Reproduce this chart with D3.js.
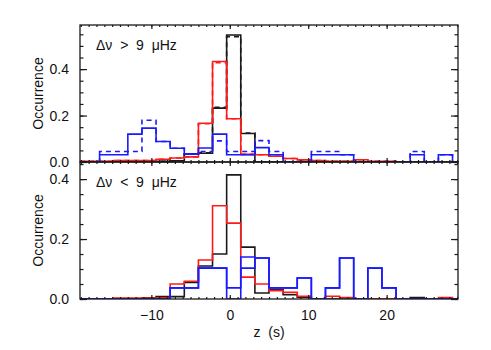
<!DOCTYPE html>
<html>
<head>
<meta charset="utf-8">
<script src="https://cdn.jsdelivr.net/npm/d3@7"></script>
<style>
  body { margin: 0; background: #fff; }
  text { font-family: "Liberation Sans", Arial, sans-serif; fill: #111; }
</style>
</head>
<body>
<svg id="chart" width="491" height="350"></svg>
<script>
// bin edges (s), 28 bins
var binEdges = [-20.2, -18.4, -16.6, -14.8, -13.0, -11.2, -9.4, -7.6, -5.8, -4.0, -2.2, -0.4,
  1.4, 3.2, 5.0, 6.8, 8.6, 10.4, 12.2, 14.0, 15.8, 17.6, 19.4, 21.2, 23.0, 24.8, 26.6, 28.4, 30.2];

// top panel: dnu > 9 muHz
var topBlack     = [0, 0, 0, 0, 0, 0, 0.003, 0.005, 0.035, 0.038, 0.232, 0.547, 0.123, 0, 0, 0, 0, 0, 0, 0, 0, 0, 0, 0, 0, 0, 0, 0];
var topBlackDash = [0, 0, 0, 0, 0, 0, 0.003, 0.005, 0.035, 0.040, 0.236, 0.540, 0.125, 0, 0, 0, 0, 0, 0, 0, 0, 0, 0, 0, 0, 0, 0, 0];
var topRed       = [0.003, 0.003, 0.003, 0.006, 0.006, 0.006, 0.012, 0.017, 0.022, 0.167, 0.433, 0.186, 0.033, 0.031, 0.025, 0.015, 0.009, 0.006, 0.003, 0.003, 0.010, 0.003, 0.003, 0, 0, 0, 0, 0];
var topRedDash   = [0.003, 0.003, 0.003, 0.006, 0.006, 0.006, 0.012, 0.017, 0.022, 0.165, 0.428, 0.186, 0.033, 0.031, 0.025, 0.015, 0.009, 0.006, 0.003, 0.003, 0.010, 0.003, 0.003, 0, 0, 0, 0, 0];
var topBlue      = [0, 0, 0.031, 0.031, 0.120, 0.146, 0.088, 0.059, 0.035, 0.060, 0.120, 0.031, 0.031, 0.062, 0.031, 0, 0, 0.031, 0.031, 0.031, 0, 0, 0, 0, 0.031, 0, 0.031, 0];
var topBlueDash  = [0, 0, 0.045, 0.045, 0.045, 0.180, 0.088, 0.059, 0.035, 0.045, 0.091, 0.045, 0.045, 0.092, 0.045, 0, 0, 0.045, 0.045, 0.031, 0, 0, 0, 0, 0.045, 0, 0.031, 0];

// bottom panel: dnu < 9 muHz
var botBlack = [0, 0, 0, 0, 0, 0.004, 0.008, 0.008, 0.055, 0.110, 0.150, 0.414, 0.173, 0.020, 0.031, 0.014, 0.006, 0, 0, 0, 0, 0, 0, 0, 0.005, 0, 0, 0];
var botRed   = [0, 0, 0, 0.003, 0.003, 0.003, 0.004, 0.050, 0.059, 0.130, 0.311, 0.253, 0.073, 0.050, 0.028, 0.022, 0.009, 0, 0.009, 0.005, 0, 0, 0, 0, 0, 0, 0.005, 0];
var botBlue  = [0, 0, 0, 0, 0, 0, 0, 0.037, 0.037, 0.103, 0.103, 0.037, 0.140, 0.137, 0.037, 0.037, 0.070, 0, 0.037, 0.137, 0, 0.103, 0.037, 0, 0, 0, 0, 0];
var botBlue2 = [0, 0, 0, 0, 0, 0, 0, 0.037, 0.037, 0.103, 0.103, 0, 0.103, 0.137, 0.037, 0.037, 0.070, 0, 0.037, 0.137, 0, 0.103, 0.037, 0, 0, 0, 0, 0];

var xTicks = [-10, 0, 10, 20];
var yTicks = [0, 0.2, 0.4];

var svg = d3.select("#chart");
var left = 80, right = 458, plotTop = 25, mid = 162, bottom = 299;

var x = d3.scaleLinear().domain([-19.1, 29.1]).range([left, right]);
var yTop = d3.scaleLinear().domain([0, 0.59]).range([mid, plotTop]);
var yBot = d3.scaleLinear().domain([0, 0.457]).range([bottom, mid]);

var ink = "#1a1a1a";

function drawPanel(id, y, y0, y1, series, label, withXLabels) {
  svg.append("clipPath").attr("id", id)
    .append("rect").attr("x", left).attr("y", y1).attr("width", right - left).attr("height", y0 - y1);
  var g = svg.append("g").attr("clip-path", "url(#" + id + ")");

  series.forEach(function(s) {
    var pts = s.values.map(function(v, i) { return [binEdges[i], v]; });
    pts.push([binEdges[binEdges.length - 1], s.values[s.values.length - 1]]);
    var line = d3.line()
      .x(function(d) { return x(d[0]); })
      .y(function(d) { return y(d[1]); })
      .curve(d3.curveStepAfter);
    g.append("path")
      .attr("d", line(pts))
      .attr("fill", "none")
      .attr("stroke", s.color)
      .attr("stroke-width", 1.6)
      .attr("stroke-dasharray", s.dash ? "5,4" : null);
  });

  // minor ticks
  var minorY = d3.range(0, y.domain()[1], 0.05);
  var minorX = d3.range(-19, 30, 1);
  svg.append("g").attr("transform", "translate(" + left + ",0)")
    .call(d3.axisLeft(y).tickValues(minorY).tickSize(-3.5).tickFormat(""));
  svg.append("g").attr("transform", "translate(" + right + ",0)")
    .call(d3.axisRight(y).tickValues(minorY).tickSize(-3.5).tickFormat(""));
  svg.append("g").attr("transform", "translate(0," + y0 + ")")
    .call(d3.axisBottom(x).tickValues(minorX).tickSize(-2).tickFormat(""));
  svg.append("g").attr("transform", "translate(0," + y1 + ")")
    .call(d3.axisTop(x).tickValues(minorX).tickSize(-2).tickFormat(""));

  // major ticks
  svg.append("g").attr("transform", "translate(" + left + ",0)")
    .call(d3.axisLeft(y).tickValues(yTicks).tickSize(-7).tickPadding(11).tickFormat(d3.format(".1f")));
  svg.append("g").attr("transform", "translate(" + right + ",0)")
    .call(d3.axisRight(y).tickValues(yTicks).tickSize(-7).tickFormat(""));
  svg.append("g").attr("transform", "translate(0," + y0 + ")")
    .call(d3.axisBottom(x).tickValues(xTicks).tickSize(-4).tickPadding(11)
      .tickFormat(withXLabels ? d3.format("d") : ""));
  svg.append("g").attr("transform", "translate(0," + y1 + ")")
    .call(d3.axisTop(x).tickValues(xTicks).tickSize(-4).tickFormat(""));

  svg.append("rect").attr("x", left).attr("y", y1).attr("width", right - left).attr("height", y0 - y1)
    .attr("fill", "none").attr("stroke", ink).attr("stroke-width", 1.3);

  svg.append("text").attr("x", 96).attr("y", y1 + 25)
    .style("white-space", "pre").attr("font-size", 14)
    .text(label);

  svg.append("text").attr("transform", "translate(38," + ((y0 + y1) / 2) + ") rotate(-90)")
    .attr("text-anchor", "middle").attr("dy", "0.35em").attr("font-size", 14)
    .text("Occurrence");
}

drawPanel("clipTop", yTop, mid, plotTop, [
  { values: topBlack, color: ink },
  { values: topBlackDash, color: ink, dash: true },
  { values: topRed, color: "#ff1a1a" },
  { values: topRedDash, color: "#ff1a1a", dash: true },
  { values: topBlue, color: "#1a1aff" },
  { values: topBlueDash, color: "#1a1aff", dash: true }
], "\u0394\u03bd  >  9  \u03bcHz", false);

drawPanel("clipBot", yBot, bottom, mid, [
  { values: botBlack, color: ink },
  { values: botRed, color: "#ff1a1a" },
  { values: botBlue2, color: "#1a1aff" },
  { values: botBlue, color: "#1a1aff" }
], "\u0394\u03bd  <  9  \u03bcHz", true);

svg.selectAll(".domain").remove();
svg.selectAll(".tick line").attr("stroke", ink).attr("stroke-width", 1.2);
svg.selectAll(".tick text").attr("font-size", 14).attr("fill", "#111")
  .attr("font-family", "Liberation Sans, Arial, sans-serif");

svg.append("text").attr("x", 269).attr("y", 337).attr("text-anchor", "middle")
  .style("white-space", "pre").attr("font-size", 14).text("z  (s)");
</script>
</body>
</html>
